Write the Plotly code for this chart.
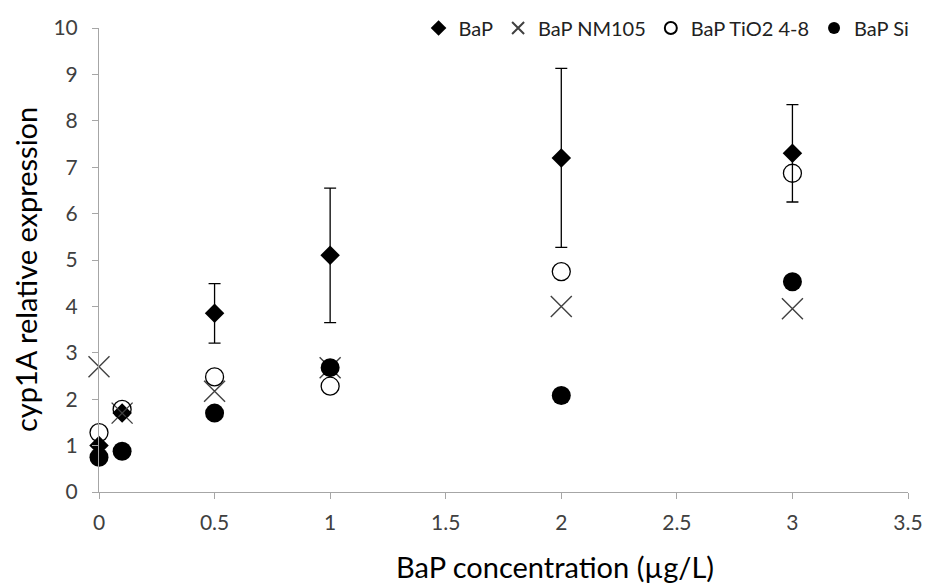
import plotly.graph_objects as go

conc = [0, 0.1, 0.5, 1, 2, 3]
bap = [1.0, 1.7, 3.85, 5.1, 7.2, 7.3]
bap_err = [0, 0, 0.64, 1.45, 1.93, 1.05]
nm105 = [2.7, 1.7, 2.17, 2.68, 4.0, 3.95]
tio2 = [1.28, 1.78, 2.48, 2.28, 4.75, 6.87]
si = [0.75, 0.88, 1.7, 2.68, 2.08, 4.53]

x_ticks = [0, 0.5, 1, 1.5, 2, 2.5, 3, 3.5]
y_ticks = list(range(0, 11))

FONT = "Lato, Open Sans, sans-serif"

fig = go.Figure()
fig.add_trace(go.Scatter(
    x=conc, y=bap, mode="markers", name="BaP", cliponaxis=False,
    marker=dict(symbol="diamond", size=15, color="black"),
    error_y=dict(type="data", array=bap_err, visible=True, color="black", thickness=1.3, width=6),
))
fig.add_trace(go.Scatter(
    x=conc, y=nm105, mode="markers", name="BaP NM105", cliponaxis=False,
    marker=dict(symbol="x-thin-open", size=21, color="#404040", line=dict(color="#404040", width=1.4)),
))
fig.add_trace(go.Scatter(
    x=conc, y=tio2, mode="markers", name="BaP TiO2 4-8", cliponaxis=False,
    marker=dict(symbol="circle-open", size=18, color="black", line=dict(color="black", width=1.3)),
))
fig.add_trace(go.Scatter(
    x=conc, y=si, mode="markers", name="BaP Si", cliponaxis=False,
    marker=dict(symbol="circle", size=19, color="black"),
))

tick_font = dict(family=FONT, size=21, color="#404040")
fig.update_layout(
    width=929, height=585,
    paper_bgcolor="white", plot_bgcolor="white",
    margin=dict(l=99, r=21, t=28, b=93, autoexpand=False),
    showlegend=True,
    legend=dict(orientation="h", x=0.395, xanchor="left", y=1.0, yanchor="middle",
                font=dict(family=FONT, size=20, color="#222"),
                itemwidth=30, tracegroupgap=0, bgcolor="rgba(0,0,0,0)",
                itemsizing="constant"),
    xaxis=dict(range=[0, 3.5], tickvals=x_ticks, ticktext=[str(v) for v in x_ticks],
               showgrid=False, zeroline=False, showline=True, linecolor="#a6a6a6", linewidth=1,
               ticks="outside", ticklen=6, tickcolor="#a6a6a6", tickfont=tick_font,
               ticklabelstandoff=6, automargin=False),
    yaxis=dict(range=[0, 10], tickvals=y_ticks,
               showgrid=False, zeroline=False, showline=True, linecolor="#a6a6a6", linewidth=1,
               ticks="outside", ticklen=6, tickcolor="#a6a6a6", tickfont=tick_font,
               ticklabelstandoff=10, automargin=False),
    annotations=[
        dict(text="BaP concentration (µg/L)", xref="paper", yref="paper",
             x=(555 - 99) / 809, y=-(566 - 492) / 464, xanchor="center", yanchor="middle",
             showarrow=False, font=dict(family=FONT, size=29, color="black")),
        dict(text="cyp1A relative expression", xref="paper", yref="paper",
             x=-(99 - 25) / 809, y=(492 - 270) / 464, xanchor="center", yanchor="middle",
             textangle=-90, showarrow=False, font=dict(family=FONT, size=29, color="black")),
    ],
)
fig.write_html("out.html")
